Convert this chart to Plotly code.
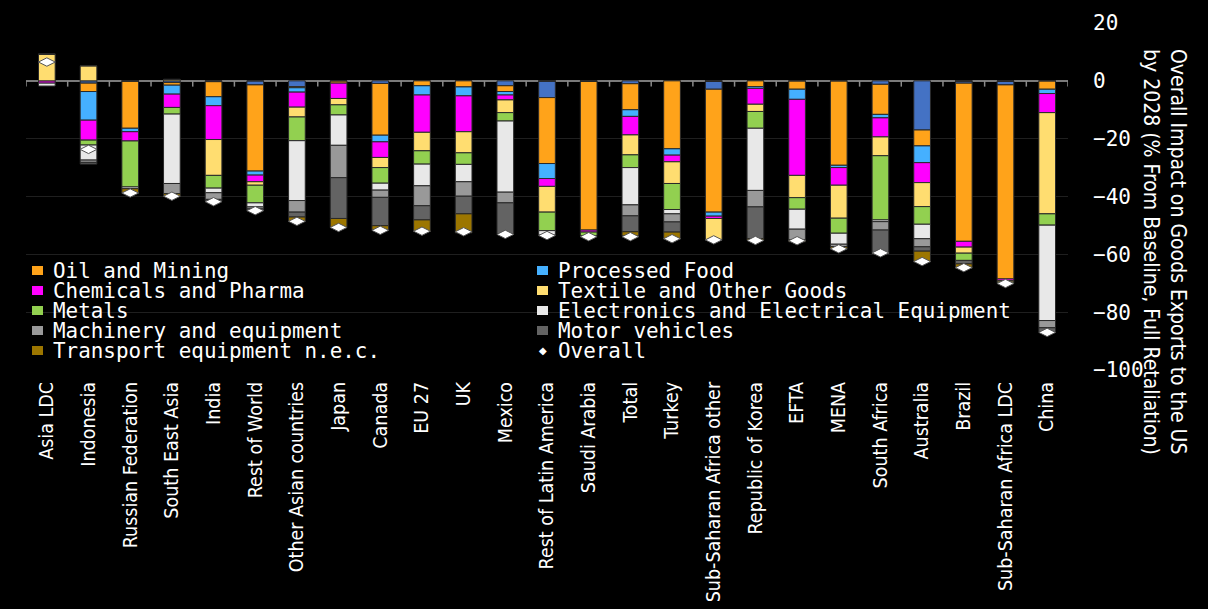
import plotly.graph_objects as go

categories = ["Asia LDC", "Indonesia", "Russian Federation", "South East Asia", "India",
              "Rest of World", "Other Asian countries", "Japan", "Canada", "EU 27", "UK",
              "Mexico", "Rest of Latin America", "Saudi Arabia", "Total", "Turkey",
              "Sub-Saharan Africa other", "Republic of Korea", "EFTA", "MENA", "South Africa",
              "Australia", "Brazil", "Sub-Saharan Africa LDC", "China"]

agriculture = [0, -0.8, 0, -0.6, -0.3, -1.4, -2.0, 0, -0.9, 0, 0, -1.7, -5.8, 0, -1.0, 0,
               -2.9, 0, 0, 0, -1.2, -17.0, -0.8, -1.4, 0]
oil_mining = [0, -2.9, -16.4, -0.9, -5.2, -29.8, -0.4, -0.8, -17.9, -1.7, -2.1, -2.0, -22.8,
              -51.6, -9.0, -23.5, -42.5, -2.0, -2.9, -29.2, -10.4, -5.5, -54.7, -67.1, -2.9]
processed_food = [0, -9.9, -1.2, -3.1, -3.1, -1.4, -1.5, 0, -2.3, -3.2, -3.1, -1.2, -5.2, 0,
                  -2.3, -2.2, -1.4, -0.6, -3.5, -0.8, -1.2, -5.8, 0, 0, -1.5]
chemicals = [-0.8, -6.9, -3.2, -4.6, -11.7, -2.3, -5.2, -5.3, -5.4, -12.9, -12.4, -1.7, -2.7,
             -0.7, -6.4, -2.3, -0.8, -5.5, -26.3, -6.1, -6.6, -6.9, -2.0, -0.6, -6.6]
textile = [9.2, 5.2, 0, 0.5, -12.4, -1.2, -3.4, -2.2, -3.5, -6.4, -7.3, -4.4, -8.9, 0, -6.9,
           -7.5, -7.3, -2.5, -7.7, -11.4, -6.5, -8.3, -2.1, -0.5, -35.0]
metals = [0, -1.7, -15.9, -2.3, -4.4, -6.1, -8.2, -3.5, -5.4, -4.6, -4.0, -2.9, -6.4, -1.2,
          -4.4, -9.0, 0, -5.8, -4.0, -5.2, -22.2, -6.1, -2.5, -0.5, -3.9]
electronics = [-1.0, -5.2, -0.6, -24.0, -1.6, -1.4, -20.7, -10.5, -2.4, -7.5, -6.0, -24.6, -1.5,
               0, -12.9, -1.5, 0, -21.5, -6.9, -3.8, -0.6, -5.0, 0, 0, -33.0]
machinery = [0, -0.8, 0, -3.5, -2.3, -0.7, -4.0, -11.2, -2.5, -6.9, -5.0, -3.7, 0, 0, -3.8,
             -2.8, 0, -5.7, -3.7, -0.8, -2.9, -2.8, 0, 0, -2.5]
motor_vehicles = [0, -0.6, 0, 0, -0.6, -0.5, -1.7, -14.1, -9.8, -4.9, -6.1, -10.6, 0, 0, -5.5,
                  -3.5, 0, -11.0, 0, 0, -7.9, -1.5, -1.2, 0, -1.5]
transport = [0, 0, -1.4, -1.0, 0, 0, -1.6, -3.2, -1.4, -4.0, -6.6, -0.3, 0, 0, -1.4, -2.4, 0,
             -0.6, -0.7, -0.9, -0.3, -3.7, -1.5, 0, 0]
overall = [6.5, -23.7, -38.8, -39.9, -41.8, -44.9, -48.6, -50.7, -51.7, -52.0, -52.2, -53.1,
           -53.5, -53.9, -53.9, -54.6, -55.0, -55.2, -55.3, -58.1, -59.5, -62.5, -64.6, -70.1, -87.0]
y_ticks = [20, 0, -20, -40, -60, -80, -100]

series = [
    ("Agriculture", agriculture, "#4472C4", False),
    ("Oil and Mining", oil_mining, "#FFA31A", True),
    ("Processed Food", processed_food, "#45B0FF", True),
    ("Chemicals and Pharma", chemicals, "#FF00FF", True),
    ("Textile and Other Goods", textile, "#FFDD70", True),
    ("Metals", metals, "#92D050", True),
    ("Electronics and Electrical Equipment", electronics, "#E8E8E8", True),
    ("Machinery and equipment", machinery, "#999999", True),
    ("Motor vehicles", motor_vehicles, "#636363", True),
    ("Transport equipment n.e.c.", transport, "#9C7600", True),
]

fig = go.Figure()
for name, vals, color, show in series:
    fig.add_trace(go.Bar(
        x=categories, y=vals, name=name, showlegend=False, width=0.4,
        marker=dict(color=color, line=dict(color="#2a2a2a", width=1)),
    ))

fig.add_trace(go.Scatter(
    x=categories, y=overall, name="Overall", mode="markers", showlegend=False,
    marker=dict(symbol="diamond-wide", size=12, color="white",
                line=dict(color="#555555", width=1)),
))

# category boundary ticks on the zero line
for i in range(len(categories) + 1):
    fig.add_shape(type="line", xref="x", yref="y", x0=i - 0.5, x1=i - 0.5, y0=0, y1=-2,
                  line=dict(color="#8a8a8a", width=1.5))

label_font = "Liberation Sans Narrow, DejaVu Sans Condensed, Arial Narrow, sans-serif"
mono_font = "DejaVu Sans Mono, monospace"

# plot area geometry (pixels) used to place the legend in paper coordinates
L, R, T, B = 26, 140, 23, 239
W, H = 1208, 609
PW, PH = W - L - R, H - T - B


def px_x(px):
    return (px - L) / PW


def px_y(py):
    return (H - B - py) / PH


# legend drawn as a two-column grid (row-major), as in the original
legend_entries = [(name, color) for name, _, color, show in series if show] + [("Overall", None)]
col_x0, col_dx, row_y0, row_dy = 32, 505, 270.5, 20
annotations = []
shapes = []
for k, (name, color) in enumerate(legend_entries):
    row, col = divmod(k, 2)
    sx = col_x0 + col * col_dx
    sy = row_y0 + row * row_dy
    if color is not None:
        shapes.append(dict(type="rect", xref="paper", yref="paper",
                           x0=px_x(sx), x1=px_x(sx + 11), y0=px_y(sy - 4.5), y1=px_y(sy + 4.5),
                           fillcolor=color, line=dict(width=0)))
    else:
        annotations.append(dict(text="◆", xref="paper", yref="paper", x=px_x(sx + 5.5),
                                y=px_y(sy), xanchor="center", yanchor="middle",
                                showarrow=False, font=dict(family="DejaVu Sans", size=10,
                                                           color="white")))
    annotations.append(dict(text=name, xref="paper", yref="paper", x=px_x(sx + 19),
                            y=px_y(sy), xanchor="left", yanchor="middle", showarrow=False,
                            font=dict(family=mono_font, size=20.9, color="white")))

annotations.append(dict(
    text="Overall Impact on Goods Exports to the US<br>by 2028 (% From Baseline, Full Retaliation)",
    xref="paper", yref="paper", x=px_x(1165), y=px_y(47),
    xanchor="center", yanchor="top", textangle=90, align="left", showarrow=False,
    font=dict(family=label_font, size=21, color="white"),
))

fig.update_layout(
    width=W, height=H,
    paper_bgcolor="black", plot_bgcolor="black",
    barmode="relative", bargap=0.6,
    margin=dict(l=L, r=R, t=T, b=B),
    xaxis=dict(type="category", range=[-0.5, len(categories) - 0.5], tickangle=-90,
               showgrid=False, showline=False, ticks="", zeroline=False, automargin=False,
               tickfont=dict(family=label_font, size=19.5, color="white"),
               ticklabelstandoff=7),
    yaxis=dict(side="right", range=[-100, 20], tickvals=y_ticks, automargin=False,
               showgrid=True, gridcolor="#1f1f1f", gridwidth=1,
               zeroline=True, zerolinecolor="#7a7a7a", zerolinewidth=2,
               ticks="", showline=False,
               tickfont=dict(family=mono_font, size=21, color="white"),
               ticklabelstandoff=24),
    showlegend=False,
    shapes=fig.layout.shapes + tuple(shapes),
    annotations=annotations,
)

fig.write_html("out.html")
